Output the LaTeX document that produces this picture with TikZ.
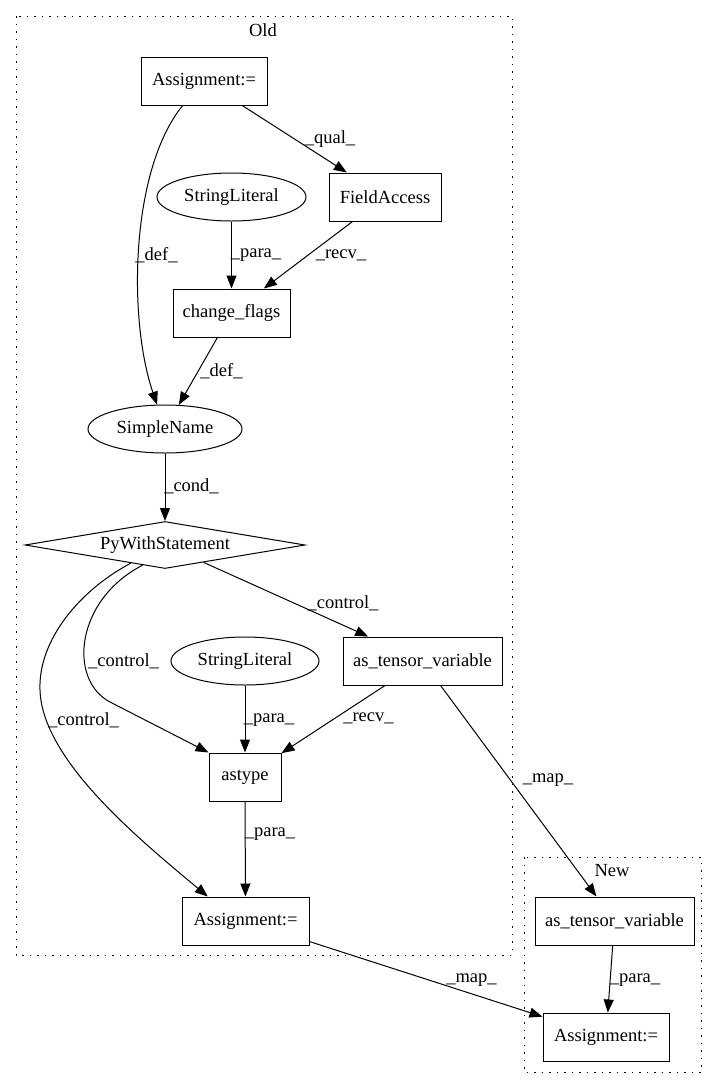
\documentclass[tikz,border=0pt]{standalone}
\usepackage{fontspec}
\setmainfont{Liberation Serif}
\usetikzlibrary{shapes.geometric,arrows.meta}
\begin{document}
\begin{tikzpicture}[x=1pt,y=-1pt,
  every node/.style={font=\fontsize{18.5pt}{22pt}\selectfont, inner sep=0pt},
  box/.style={draw, rectangle, minimum height=48pt, line width=1pt},
  oval/.style={draw, ellipse, minimum height=48pt, line width=1pt},
  dia/.style={draw, diamond, shape aspect=6, minimum width=280pt, minimum height=47pt, line width=1pt},
  lbl/.style={},
  edge/.style={draw, line width=1pt, -{Triangle[length=13pt,width=10pt]}},
  cluster/.style={draw, line width=1pt, dash pattern=on 1.5pt off 6pt}]
\useasboundingbox (0,0) rectangle (717,1088);
% clusters
\draw[cluster] (16,16) rectangle (512,955);
\draw[cluster] (524,857) rectangle (701,1072);
\node (oldlbl) at (263,30) {Old};
\node (newlbl) at (612,871) {New};
% nodes
\node[box, minimum width=126pt] (asg1) at (204,81) {Assignment:=};
\node[box, minimum width=112pt] (fa) at (385,197) {FieldAccess};
\node[oval, minimum width=149pt] (sl1) at (231.5,197) {StringLiteral};
\node[box, minimum width=117pt] (cf) at (231.5,313) {change\_flags};
\node[oval, minimum width=154pt] (sn) at (165,429) {SimpleName};
\node[dia] (pws) at (165,545) {PyWithStatement};
\node[box, minimum width=159pt] (atv1) at (422.5,661) {as\_tensor\_variable};
\node[oval, minimum width=148pt] (sl2) at (245,661) {StringLiteral};
\node[box, minimum width=72pt] (ast) at (245,777) {astype};
\node[box, minimum width=127pt] (asg2) at (245.5,921) {Assignment:=};
\node[box, minimum width=159pt] (atv2) at (614.5,921) {as\_tensor\_variable};
\node[box, minimum width=126pt] (asg3) at (606,1037) {Assignment:=};
% edges
\draw[edge] (asg1.229) .. controls (130,170) and (128,320) .. (sn.108);
\draw[edge] (asg1) -- (fa);
\draw[edge] (sl1) -- (cf);
\draw[edge] (fa) -- (cf);
\draw[edge] (cf) -- (sn);
\draw[edge] (sn) -- (pws);
\draw[edge] (pws) -- (atv1);
\draw[edge] (pws.222) .. controls (75,600) and (68,680) .. (110,702) -- (ast.north west);
\draw[edge] (pws.208) .. controls (80,590) and (38,640) .. (40,690) .. controls (42,760) and (140,840) .. (asg2.147);
\draw[edge] (sl2) -- (ast);
\draw[edge] (atv1) -- (ast);
\draw[edge] (atv1) -- (atv2);
\draw[edge] (ast) -- (asg2);
\draw[edge] (asg2) -- (asg3);
\draw[edge] (atv2) -- (asg3);
% edge labels
\node[lbl] (l1) at (156.5,255) {\_def\_};
\node[lbl] (l2) at (330,139) {\_qual\_};
\node[lbl] (l3) at (256,255) {\_para\_};
\node[lbl] (l4) at (341,255) {\_recv\_};
\node[lbl] (l5) at (221.5,371) {\_def\_};
\node[lbl] (l6) at (191.5,486) {\_cond\_};
\node[lbl] (l7) at (343,603) {\_control\_};
\node[lbl] (l8) at (123.5,661) {\_control\_};
\node[lbl] (l9) at (83.5,720) {\_control\_};
\node[lbl] (l10) at (269,720) {\_para\_};
\node[lbl] (l11) at (368.5,718) {\_recv\_};
\node[lbl] (l12) at (548,780) {\_map\_};
\node[lbl] (l13) at (270,834) {\_para\_};
\node[lbl] (l14) at (471.5,980) {\_map\_};
\node[lbl] (l15) at (635,980) {\_para\_};
\end{tikzpicture}
\end{document}
